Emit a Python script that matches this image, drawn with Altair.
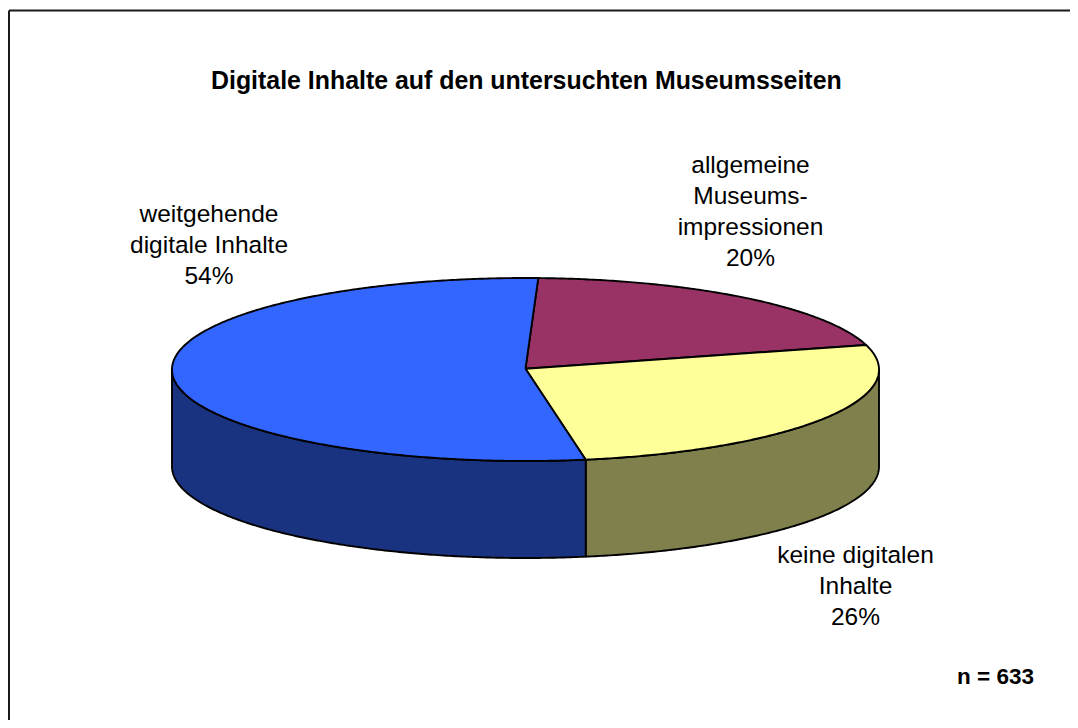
import numpy as np
import pandas as pd
import altair as alt

categories = ["allgemeine Museumsimpressionen", "keine digitalen Inhalte", "weitgehende digitale Inhalte"]
shares = [20.1, 26.6, 53.3]  # slice sizes as drawn, clockwise from the top seam
top_colors = ["#993366", "#FFFF99", "#3366FF"]
side_colors = ["#4D1A33", "#80804D", "#1A3380"]

label_lines = ["weitgehende", "digitale Inhalte", "54%",
               "allgemeine", "Museums-", "impressionen", "20%",
               "keine digitalen", "Inhalte", "26%"]
label_x = [209, 209, 209, 750.5, 750.5, 750.5, 750.5, 855.5, 855.5, 855.5]
label_y = [215, 246, 277, 166, 197, 228, 259, 556, 587, 618]

FONT = "Liberation Sans"
CX, CY, RX, RY, DEPTH, START = 525.5, 369.5, 353.5, 91.5, 97.0, 2.07
X = alt.X("x:Q", scale=alt.Scale(domain=[8, 1070], range=[0, 1062], nice=False, zero=False), axis=None)
Y = alt.Y("y:Q", scale=alt.Scale(domain=[8, 720], range=[0, 712], nice=False, zero=False), axis=None)


def rim(a, b, drop=0.0):
    t = np.radians(np.linspace(a, b, max(2, int(abs(b - a) * 2))))
    return list(CX + RX * np.sin(t)), list(CY - RY * np.cos(t) + drop)


def outline(xs, ys, fill):
    d = pd.DataFrame({"x": xs, "y": ys, "seq": range(len(xs))})
    return alt.Chart(d).mark_line(fill=fill, stroke="#000000", strokeWidth=1.9, strokeJoin="round",
                                  clip=False).encode(x=X, y=Y, order="seq:Q")


edges = START + np.cumsum([0] + shares) * 3.6
layers = []
# outer wall: only the part facing the viewer (rim angles 90..270)
for i in range(3):
    a, b = max(edges[i], 90), min(edges[i + 1], 270)
    if b > a:
        x1, y1 = rim(a, b)
        x2, y2 = rim(b, a, DEPTH)
        layers.append(outline(x1 + x2 + x1[:1], y1 + y2 + y1[:1], side_colors[i]))
# top face
for i in range(3):
    x1, y1 = rim(edges[i], edges[i + 1])
    layers.append(outline([CX] + x1 + [CX], [CY - 0.8] + y1 + [CY - 0.8], top_colors[i]))

frame = pd.DataFrame({"x": [9, 9], "y": [10.5, 10.5], "x2": [9, 1070], "y2": [720, 10.5]})
layers.append(alt.Chart(frame).mark_rule(color="#1a1a1a", strokeWidth=2, clip=False).encode(
    x=X, y=Y, x2="x2:Q", y2="y2:Q"))

labels = pd.DataFrame({"text": label_lines, "x": label_x, "y": label_y})
layers.append(alt.Chart(labels).mark_text(font=FONT, fontSize=24.5, color="#000000", align="center",
                                          baseline="middle").encode(x=X, y=Y, text="text:N"))
note = pd.DataFrame({"text": ["n = 633"], "x": [1034], "y": [677]})
layers.append(alt.Chart(note).mark_text(font=FONT, fontSize=22.5, fontWeight="bold", color="#000000", align="right",
                                        baseline="middle").encode(x=X, y=Y, text="text:N"))

chart = alt.layer(*layers).properties(
    width=1062, height=712,
    padding=0,
    autosize=alt.AutoSizeParams(type="none"),
    title=alt.TitleParams("Digitale Inhalte auf den untersuchten Museumsseiten", font=FONT, fontSize=24.9,
                          fontWeight="bold", color="#000000", anchor="start", frame="group",
                          dx=203, offset=-99, baseline="middle"),
).configure_view(stroke=None)

chart.save("out.html", embed_options={"renderer": "svg", "actions": False})
